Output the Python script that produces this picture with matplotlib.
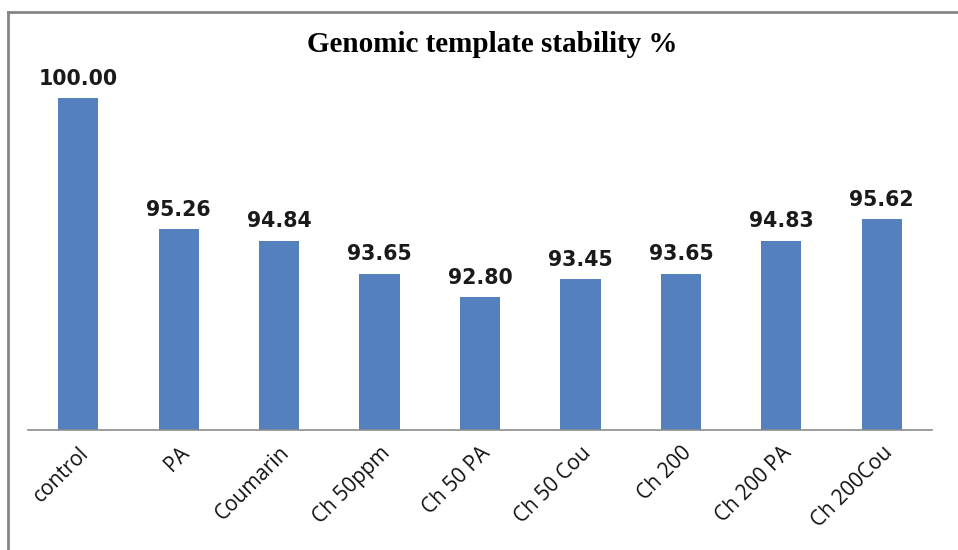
import matplotlib
matplotlib.use("Agg")
import matplotlib.pyplot as plt
from matplotlib.lines import Line2D

categories = ["control", "PA", "Coumarin", "Ch 50ppm", "Ch 50 PA",
              "Ch 50 Cou", "Ch 200", "Ch 200 PA", "Ch 200Cou"]
values = [100.00, 95.26, 94.84, 93.65, 92.80, 93.45, 93.65, 94.83, 95.62]

W, H = 958, 550
fig = plt.figure(figsize=(W / 100, H / 100), dpi=100)
fig.patch.set_facecolor("white")

# axes placed in pixel terms: x 28..932, y 43..430 (from top)
left, right = 28 / W, 932 / W
bottom, top = 1 - 430 / H, 1 - 43 / H
ax = fig.add_axes([left, bottom, right - left, top - bottom])

x = range(len(categories))
bars = ax.bar(x, values, width=0.4, color="#5480BD", zorder=2)
ax.set_xlim(-0.5, len(categories) - 0.5)
ax.set_ylim(88, 102)

for b, v in zip(bars, values):
    ax.annotate(f"{v:.2f}", (b.get_x() + b.get_width() / 2, v),
                xytext=(0, 7), textcoords="offset points",
                ha="center", va="bottom", fontsize=14.8, fontweight="bold",
                family="DejaVu Sans", color="#1a1a1a")

ax.set_xticks(list(x))
ax.set_xticklabels(categories, rotation=45, ha="right", rotation_mode="anchor",
                   fontsize=15, family="Open Sans", color="#111111")
ax.tick_params(axis="x", length=0, pad=9)
ax.set_yticks([])
for s in ["top", "right", "left"]:
    ax.spines[s].set_visible(False)
ax.spines["bottom"].set_color("#8c8c8c")
ax.spines["bottom"].set_linewidth(1.2)

fig.text(492 / W, 1 - 45 / H, "Genomic template stability %", ha="center",
         va="center", fontsize=21, fontweight="bold", family="Liberation Serif")

# outer chart frame (top and left edges)
fig.add_artist(Line2D([8 / W, 1.0], [1 - 12 / H] * 2, color="#858585", lw=2,
                      transform=fig.transFigure))
fig.add_artist(Line2D([8 / W] * 2, [0, 1 - 12 / H], color="#858585", lw=2,
                      transform=fig.transFigure))

fig.savefig("out.png", dpi=100)
